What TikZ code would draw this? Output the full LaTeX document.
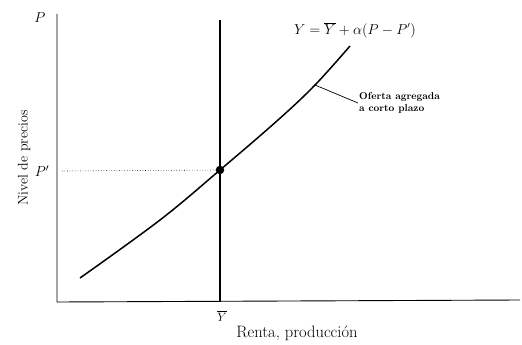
\documentclass[tikz,border=0pt]{standalone}
\usepackage{tikz}
\tikzset{
  axis/.style={line width=0.9pt},
  curve/.style={line width=1.5pt},
  lbl/.style={inner sep=1pt},
}
\begin{document}
\begin{tikzpicture}[x=1pt,y=-1pt]
\useasboundingbox (0,0) rectangle (522,345);
% axes
\coordinate (O) at (57,302);
\coordinate (ytop) at (57,14);
\coordinate (xend) at (520,300);
\draw[axis] (ytop) -- (O) -- (xend);
% vertical line at Ybar
\coordinate (vtop) at (220,20);
\coordinate (vbot) at (220,302);
\draw[line width=1.4pt] (vtop) -- (vbot);
% equilibrium dot
\node[circle,fill,inner sep=0pt,minimum size=8.5pt] (E) at (220,170) {};
% dotted line to P'
\coordinate (pd) at (62,171);
\draw[dotted,line width=0.6pt] (pd) -- (E);
% SRAS curve
\draw[curve] plot[smooth,tension=0.6] coordinates {(80,278) (160,220) (220,170) (278,120) (315,85) (350,46)};
% labels
\node[lbl,font=\fontsize{14}{16}\selectfont] (P) at (40,18) {$P$};
\node[lbl,font=\fontsize{14}{16}\selectfont] (Pp) at (42,171) {$P'$};
\node[lbl,font=\fontsize{12}{14}\selectfont] (Yb) at (222,316) {$\overline{Y}$};
\node[lbl,font=\fontsize{13.5}{16}\selectfont] (eq) at (355,30) {$Y=\overline{Y}+\alpha(P-P')$};
\node[lbl,font=\fontsize{16.5}{19}\selectfont] (xl) at (297,333) {Renta, producción};
\node[lbl,font=\fontsize{14}{16}\selectfont,rotate=90] (yl) at (24,158) {Nivel de precios};
% leader and curve label
\coordinate (cp) at (315,85);
\node[lbl,anchor=west,align=left,font=\bfseries\fontsize{10}{12}\selectfont] (sras) at (358,103) {Oferta agregada\\a corto plazo};
\draw[line width=0.7pt] (cp) -- (sras.west);
\end{tikzpicture}
\end{document}
